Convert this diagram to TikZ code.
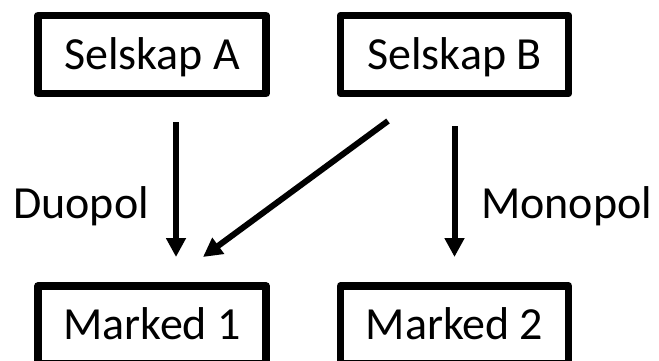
\documentclass[tikz,border=0pt]{standalone}
\usepackage{fontspec}
\setmainfont{Carlito}
\usetikzlibrary{arrows.meta,calc}
\begin{document}
\begin{tikzpicture}[x=1pt,y=-1pt,
  box/.style={draw=black,line width=7.5pt,line join=round,fill=white,
    minimum width=228pt,minimum height=78pt,inner sep=0pt,
    text height=29.6pt,text depth=0pt,font=\fontsize{46}{55}\selectfont},
  lbl/.style={inner sep=0pt,anchor=base west,font=\fontsize{46}{55}\selectfont},
  arr/.style={line width=6pt,-{Triangle[width=19pt,length=19pt]}}]
\useasboundingbox (0,0) rectangle (659,361);
\clip (0,0) rectangle (659,361);
\node[box] (A) at (152,54.5) {Selskap A};
\node[box] (B) at (454.5,54.5) {Selskap B};
\node[box] (M1) at (152,325) {Marked 1};
\node[box] (M2) at (454.5,325) {Marked 2};
\draw[arr] ($(A.south)+(24,24.75)$) -- ($(M1.north)+(24,-25.25)$);
\draw[arr] ($(B.south)+(-66.5,23.75)$) -- ($(M1.north)+(51,-25.25)$);
\draw[arr] ($(B.south)+(0,28.75)$) -- ($(M2.north)+(0,-25.25)$);
\node[lbl] (duo) at (13,218) {Duopol};
\node[lbl] (mono) at (481,218) {Monopol};
\end{tikzpicture}
\end{document}
